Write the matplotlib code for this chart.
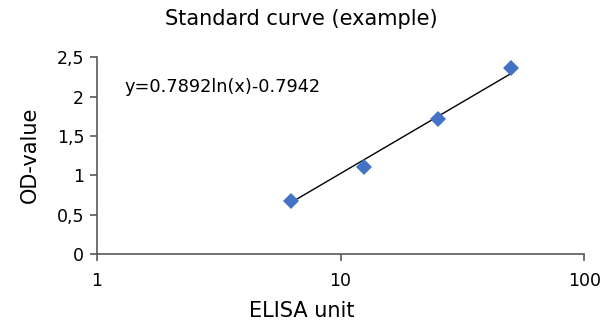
import matplotlib
matplotlib.use("Agg")
import matplotlib.pyplot as plt
import numpy as np
from matplotlib.ticker import FixedLocator, FixedFormatter

# Data
elisa_units = [6.25, 12.5, 25, 50]
od_values = [0.67, 1.11, 1.72, 2.36]
fit_slope = 0.7892
fit_intercept = -0.7942
x_ticks = [1, 10, 100]
x_tick_labels = ["1", "10", "100"]
y_ticks = [0, 0.5, 1, 1.5, 2, 2.5]
y_tick_labels = ["0", "0,5", "1", "1,5", "2", "2,5"]

plt.rcParams['font.family'] = ['DejaVu Sans']

fig = plt.figure(figsize=(6.03, 3.26), dpi=100)
ax = fig.add_axes([0.1604, 0.2209, 0.969 - 0.1604, 0.8242 - 0.2209])

# Trendline
xs = np.geomspace(elisa_units[0], elisa_units[-1], 50)
ax.plot(xs, fit_slope * np.log(xs) + fit_intercept, color='black', lw=1.0, zorder=2)

ax.plot(elisa_units, od_values, linestyle='none', marker='D', markersize=8.5,
        color='#4472C4', markeredgewidth=0, zorder=3)

ax.set_xscale('log')
ax.set_xlim(1, 100)
ax.set_ylim(0, 2.5)
ax.xaxis.set_major_locator(FixedLocator(x_ticks))
ax.xaxis.set_major_formatter(FixedFormatter(x_tick_labels))
ax.xaxis.set_minor_locator(FixedLocator([]))
ax.yaxis.set_major_locator(FixedLocator(y_ticks))
ax.yaxis.set_major_formatter(FixedFormatter(y_tick_labels))

for s in ['top', 'right']:
    ax.spines[s].set_visible(False)
for s in ['left', 'bottom']:
    ax.spines[s].set_color('#595959')
    ax.spines[s].set_linewidth(1.2)
ax.tick_params(axis='both', direction='out', length=5, width=1.2, color='#595959',
               labelsize=12.5, labelcolor='black', pad=4)
ax.tick_params(axis='x', pad=8)

ax.text(0.056, 2.12, "y=0.7892ln(x)-0.7942", transform=ax.get_yaxis_transform(),
        fontsize=12.8, va='center', ha='left')

fig.text(0.5, 1 - 19 / 326, "Standard curve (example)", ha='center', va='center',
         fontsize=15)
fig.text(0.5, 1 - 311 / 326, "ELISA unit", ha='center', va='center', fontsize=15)
fig.text(30 / 603, 1 - 155 / 326, "OD-value", ha='center', va='center',
         fontsize=15, rotation=90)

fig.savefig("out.png", dpi=100)
